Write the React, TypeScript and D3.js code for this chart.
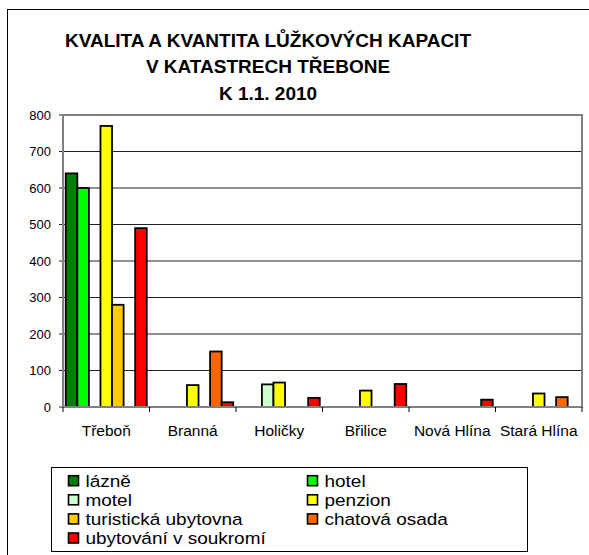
import * as React from "react";
import * as d3 from "d3";

const categories = ["Třeboň", "Branná", "Holičky", "Břilice", "Nová Hlína", "Stará Hlína"];
const seriesNames = [
  "lázně",
  "hotel",
  "motel",
  "penzion",
  "turistická ubytovna",
  "chatová osada",
  "ubytování v soukromí",
];
const seriesColors = ["#008000", "#00FF00", "#CCFFCC", "#FFFF00", "#FFCC00", "#FF6600", "#FF0000"];

const lazne = [640, 0, 0, 0, 0, 0];
const hotel = [600, 0, 0, 0, 0, 0];
const motel = [0, 0, 62, 0, 0, 0];
const penzion = [770, 60, 67, 45, 0, 37];
const turisticka = [280, 0, 0, 0, 0, 0];
const chatova = [0, 152, 0, 0, 0, 27];
const soukromi = [490, 13, 25, 63, 20, 0];
const seriesValues = [lazne, hotel, motel, penzion, turisticka, chatova, soukromi];

const yTicks = [0, 100, 200, 300, 400, 500, 600, 700, 800];
const titleLines = ["KVALITA A KVANTITA LŮŽKOVÝCH KAPACIT", "V KATASTRECH TŘEBONE", "K 1.1. 2010"];

const font = "'Liberation Sans', Arial, sans-serif";

export default function App() {
  const width = 589;
  const height = 555;
  const plot = { left: 63, right: 582, top: 115, bottom: 407 };

  const y = d3.scaleLinear().domain([0, 800]).range([plot.bottom, plot.top]);
  const x0 = d3.scaleBand().domain(categories).range([plot.left, plot.right]).padding(0);
  const gap = 5.5;
  const x1 = d3
    .scaleBand()
    .domain(seriesNames)
    .range([gap / 2, x0.bandwidth() - gap / 2])
    .padding(0);

  const legend = { x: 51, y: 467, w: 476, h: 84 };
  const rowH = 19.1;

  return (
    <svg
      width={width}
      height={height}
      style={{ position: "absolute", left: 0, top: 0, background: "#fff" }}
      fontFamily={font}
    >
      <rect x={0} y={0} width={width} height={height} fill="#fff" />
      {/* outer chart frame, runs past the right and bottom edges */}
      <rect x={7.5} y={9.5} width={700} height={700} fill="none" stroke="#000" strokeWidth={1} />

      {titleLines.map((t, i) => (
        <text
          key={t}
          x={268}
          y={46.5 + i * 26.7}
          textAnchor="middle"
          fontSize={19}
          fontWeight="bold"
        >
          {t}
        </text>
      ))}

      {/* gridlines */}
      {yTicks.map((t) => (
        <line
          key={"g" + t}
          x1={plot.left - 4}
          x2={plot.right}
          y1={y(t)}
          y2={y(t)}
          stroke="#222"
          strokeWidth={1}
        />
      ))}

      {/* plot frame */}
      <rect
        x={plot.left}
        y={plot.top}
        width={plot.right - plot.left}
        height={plot.bottom - plot.top}
        fill="none"
        stroke="#808080"
        strokeWidth={2}
      />

      {yTicks.map((t) => (
        <text key={"yl" + t} x={51} y={y(t) + 4.5} textAnchor="end" fontSize={13}>
          {t}
        </text>
      ))}

      {/* bars */}
      {categories.map((c, ci) => (
        <g key={c} transform={`translate(${x0(c)},0)`}>
          {seriesNames.map((s, si) => {
            const v = seriesValues[si][ci];
            if (!v) return null;
            return (
              <rect
                key={s}
                x={x1(s)}
                y={y(v)}
                width={x1.bandwidth()}
                height={y(0) - y(v)}
                fill={seriesColors[si]}
                stroke="#000"
                strokeWidth={1.8}
              />
            );
          })}
        </g>
      ))}

      {/* x axis line and ticks */}
      <line x1={plot.left} x2={plot.right} y1={plot.bottom} y2={plot.bottom} stroke="#808080" strokeWidth={2} />
      {d3.range(categories.length + 1).map((i) => {
        const xx = plot.left + i * x0.bandwidth();
        return <line key={"t" + i} x1={xx} x2={xx} y1={plot.bottom} y2={plot.bottom + 5} stroke="#000" strokeWidth={1} />;
      })}
      {categories.map((c) => (
        <text key={"xl" + c} x={(x0(c) as number) + x0.bandwidth() / 2} y={435.5} textAnchor="middle" fontSize={15.5}>
          {c}
        </text>
      ))}

      {/* legend */}
      <rect x={legend.x + 0.5} y={legend.y + 0.5} width={legend.w} height={legend.h} fill="none" stroke="#000" strokeWidth={1} />
      {seriesNames.map((s, i) => {
        const col = i % 2;
        const row = Math.floor(i / 2);
        const sx = col === 0 ? 68.5 : 307.5;
        const cy = 480.7 + row * rowH;
        return (
          <g key={"lg" + s}>
            <rect x={sx} y={cy - 5} width={10} height={10} fill={seriesColors[i]} stroke="#000" strokeWidth={1.6} />
            <g transform={`translate(${sx + 17},${cy + 6})`}>
              <text x={0} y={0} fontSize={16.5} transform="scale(1.15,1)">
                {s}
              </text>
            </g>
          </g>
        );
      })}
    </svg>
  );
}
